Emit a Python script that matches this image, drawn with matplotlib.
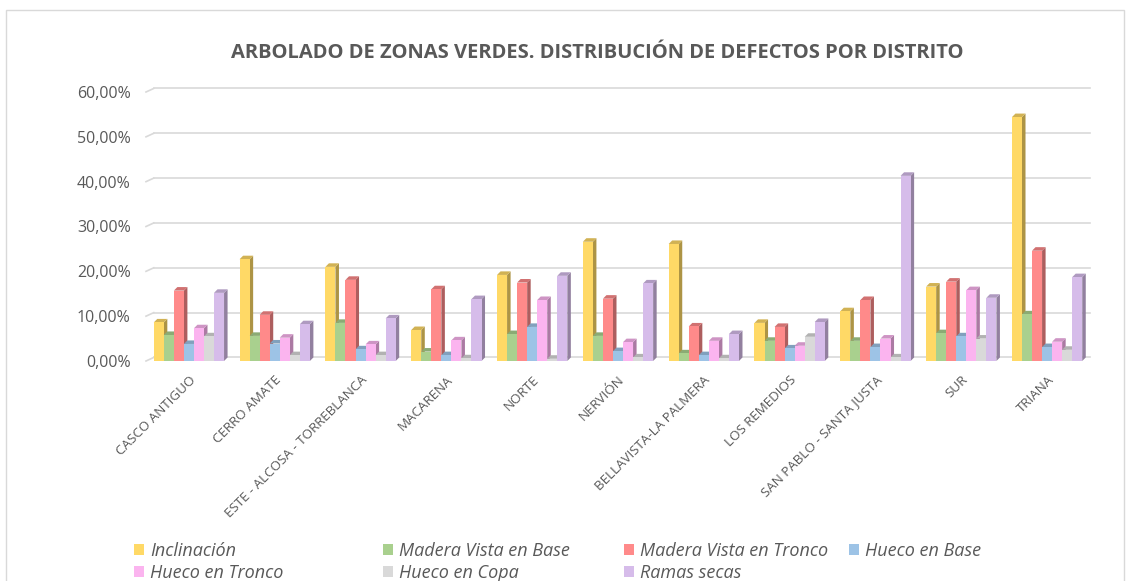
import numpy as np
import matplotlib.pyplot as plt
from matplotlib.patches import Polygon, Rectangle, Patch
from matplotlib.colors import to_rgb

plt.rcParams['font.family'] = ['Open Sans', 'DejaVu Sans']

# Datos (porcentaje de defectos por distrito)
distritos = ['CASCO ANTIGUO', 'CERRO AMATE', 'ESTE - ALCOSA - TORREBLANCA', 'MACARENA',
             'NORTE', 'NERVIÓN', 'BELLAVISTA-LA PALMERA', 'LOS REMEDIOS',
             'SAN PABLO - SANTA JUSTA', 'SUR', 'TRIANA']
series = ['Inclinación', 'Madera Vista en Base', 'Madera Vista en Tronco', 'Hueco en Base',
          'Hueco en Tronco', 'Hueco en Copa', 'Ramas secas']
inclinacion = [8.6, 22.7, 21.0, 6.9, 19.2, 26.6, 26.1, 8.5, 11.1, 16.6, 54.4]
madera_base = [5.8, 5.6, 8.5, 2.1, 6.0, 5.6, 1.7, 4.5, 4.5, 6.2, 10.4]
madera_tronco = [15.7, 10.3, 18.1, 16.0, 17.5, 13.9, 7.7, 7.6, 13.6, 17.7, 24.6]
hueco_base = [3.8, 3.9, 2.6, 1.3, 7.6, 2.2, 1.3, 2.8, 3.1, 5.5, 3.1]
hueco_tronco = [7.3, 5.2, 3.7, 4.6, 13.6, 4.2, 4.5, 3.4, 5.0, 15.8, 4.3]
hueco_copa = [5.5, 1.3, 1.3, 0.6, 0.5, 0.8, 0.6, 5.4, 0.8, 5.0, 2.5]
ramas_secas = [15.2, 8.2, 9.5, 13.8, 19.0, 17.3, 6.0, 8.7, 41.3, 14.1, 18.7]
colores = ['#FFD966', '#A9D08E', '#FF8A8A', '#9DC3E6', '#FBB4EF', '#D9D9D9', '#D6BCEA']

valores = np.array([inclinacion, madera_base, madera_tronco, hueco_base,
                    hueco_tronco, hueco_copa, ramas_secas]) / 100.0

gris = '#595959'
fig = plt.figure(figsize=(11.31, 5.81), dpi=100)
ax = fig.add_axes([146 / 1131, 1 - 361 / 581, (1090 - 146) / 1131, (361 - 92) / 581])

n_series, n_grupos = valores.shape
ancho = 0.117
dx = 0.041   # profundidad en x (unidades de datos)
dy = 0.0079  # profundidad en y
ax.set_xlim(-0.5, n_grupos - 0.5)
ax.set_ylim(0, 0.6)

def oscurecer(c, f):
    r, g, b = to_rgb(c)
    return (r * f, g * f, b * f)

# rejilla del fondo
ticks = np.arange(0, 0.61, 0.1)
for t in ticks:
    ax.plot([-0.5, -0.5 + dx * 2.2], [t, t + dy], color='#D9D9D9', lw=1.2, zorder=0, clip_on=False)
    ax.plot([-0.5 + dx * 2.2, n_grupos - 0.5], [t + dy, t + dy], color='#D9D9D9', lw=1.2, zorder=0, clip_on=False)

# barras con efecto 3D
for g in range(n_grupos):
    x0 = g - n_series * ancho / 2
    for s in range(n_series):
        v = valores[s, g]
        x = x0 + s * ancho
        c = colores[s]
        lado = Polygon([(x + ancho, 0), (x + ancho + dx, dy), (x + ancho + dx, v + dy), (x + ancho, v)],
                       closed=True, facecolor=oscurecer(c, 0.68), edgecolor='none', zorder=2)
        techo = Polygon([(x, v), (x + dx, v + dy), (x + ancho + dx, v + dy), (x + ancho, v)],
                        closed=True, facecolor=oscurecer(c, 0.82), edgecolor='none', zorder=2)
        ax.add_patch(lado)
        ax.add_patch(techo)
        ax.add_patch(Rectangle((x, 0), ancho, v, facecolor=c, edgecolor='none', zorder=2))

ax.set_yticks(ticks)
ax.set_yticklabels([f'{t * 100:.2f}%'.replace('.', ',') for t in ticks], fontsize=11.5, color=gris)
ax.set_xticks(range(n_grupos))
ax.set_xticklabels(distritos, rotation=45, ha='right', rotation_mode='anchor', fontsize=9.6, color=gris)
ax.tick_params(axis='both', length=0)
ax.tick_params(axis='y', pad=11)
ax.tick_params(axis='x', pad=9)
for sp in ax.spines.values():
    sp.set_visible(False)

fig.text(597 / 1131, 1 - 53 / 581, 'ARBOLADO DE ZONAS VERDES. DISTRIBUCIÓN DE DEFECTOS POR DISTRITO',
         ha='center', va='center', fontsize=14.5, fontweight='bold', color=gris)

# leyenda en columnas de ancho fijo como en Excel
col_x = [134, 383, 624, 849]
filas = [[0, 4], [1, 5], [2, 6], [3]]
for cx, idx in zip(col_x, filas):
    handles = [Patch(facecolor=colores[i], edgecolor='none') for i in idx]
    leg = fig.legend(handles, [series[i] for i in idx], loc='upper left',
                     bbox_to_anchor=(cx / 1131, 1 - 542 / 581), frameon=False,
                     prop={'style': 'italic', 'size': 13}, handlelength=0.55, handleheight=0.6,
                     handletextpad=0.33, labelspacing=0.2, borderaxespad=0, borderpad=0)
    for tx in leg.get_texts():
        tx.set_color(gris)

fig.patches.append(Rectangle((6 / 1131, -0.1), (1124 - 6) / 1131, 1.1 - 10 / 581,
                             transform=fig.transFigure, fill=False, edgecolor='#D9D9D9', lw=1))

fig.savefig('out.png', dpi=100)
